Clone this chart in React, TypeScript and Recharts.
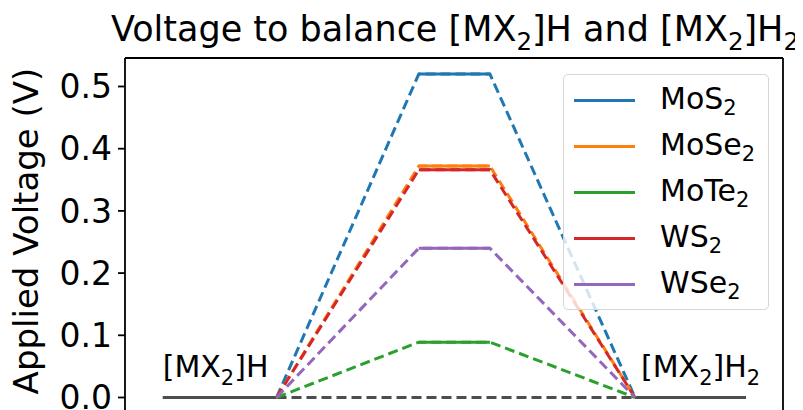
import React from 'react';
import { LineChart, Line, XAxis, YAxis, ReferenceDot } from 'recharts';

// reaction coordinate: [MX2]H plateau, barrier plateau, [MX2]H2 plateau
const stageX = [0, 1.6, 3.6, 4.6, 6.64, 8.2];
const materials = ['MoS', 'MoSe', 'MoTe', 'WS', 'WSe'];
const peakVoltage = [0.52, 0.372, 0.089, 0.366, 0.24];
const COLORS = ['#1f77b4', '#ff7f0e', '#2ca02c', '#d62728', '#9467bd'];
const yTicks = [0, 0.1, 0.2, 0.3, 0.4, 0.5];
const stateLabels = [
  { x: stageX[0], y: 0, sub: '' },
  { x: stageX[4], y: 0, sub: '2' },
];

const FONT = '"DejaVu Sans", sans-serif';
const GREY = '#4d4d4d';
const W = 795;
const H = 402;

const dashedData = (v: number) => [
  { x: stageX[1], y: 0 },
  { x: stageX[2], y: v },
  { x: stageX[3], y: v },
  { x: stageX[4], y: 0 },
];
const plateauData = (v: number) => [
  { x: stageX[2], y: v },
  { x: stageX[3], y: v },
];
const baseLeft = [
  { x: stageX[0], y: 0 },
  { x: stageX[1], y: 0 },
];
const baseMid = [
  { x: stageX[1], y: 0 },
  { x: stageX[4], y: 0 },
];
const baseRight = [
  { x: stageX[4], y: 0 },
  { x: stageX[5], y: 0 },
];

const StateLabel = (sub: string, dx: number) => (p: any) => {
  const fs = 30;
  return (
    <text x={p.cx + dx} y={p.cy - 20} fontSize={fs} fontFamily={FONT} fill="#000">
      <tspan>[MX</tspan>
      <tspan fontSize={fs * 0.7} dy={fs * 0.25}>2</tspan>
      <tspan dy={-fs * 0.25}>]H</tspan>
      {sub && (
        <tspan fontSize={fs * 0.7} dy={fs * 0.25}>
          {sub}
        </tspan>
      )}
    </text>
  );
};

const LegendBox = () => (
  <div
    style={{
      position: 'absolute',
      left: 555,
      top: 66,
      width: 206,
      height: 236,
      background: 'rgba(255,255,255,0.8)',
      border: '1px solid #d6d6d6',
      borderRadius: 5,
      paddingTop: 2,
      fontFamily: FONT,
      fontSize: 30,
      color: '#000',
      boxSizing: 'border-box',
    }}
  >
    {materials.map((m, i) => (
      <div key={m} style={{ display: 'flex', alignItems: 'center', height: 46 }}>
        <div style={{ width: 61, height: 3, background: COLORS[i], marginLeft: 10, marginRight: 25 }} />
        <span style={{ lineHeight: '46px' }}>
          {m}
          <span style={{ fontSize: '0.7em', position: 'relative', top: '0.3em' }}>2</span>
        </span>
      </div>
    ))}
  </div>
);

export default function App() {
  const fs = 35;
  const frame = { stroke: '#000', strokeWidth: 1.8 };
  return (
    <div style={{ position: 'relative', width: W, height: H }}>
      <LineChart width={W} height={H} margin={{ top: 49, right: 19, left: 0, bottom: 0 }}>
        <XAxis type="number" dataKey="x" domain={[-0.53, 8.72]} allowDataOverflow hide />
        <XAxis
          xAxisId="top"
          orientation="top"
          type="number"
          dataKey="x"
          domain={[-0.53, 8.72]}
          allowDataOverflow
          height={1}
          tick={false}
          tickLine={false}
          axisLine={frame}
        />
        <YAxis
          type="number"
          domain={[-0.0201, 0.5458]}
          allowDataOverflow
          ticks={yTicks}
          interval={0}
          width={117}
          tickSize={7}
          tickMargin={6}
          tickFormatter={(v) => Number(v).toFixed(1)}
          tick={{ fontSize: 33, fontFamily: FONT, fill: '#000' }}
          tickLine={frame}
          axisLine={frame}
        />
        <YAxis
          yAxisId="right"
          orientation="right"
          type="number"
          domain={[-0.0201, 0.5458]}
          allowDataOverflow
          width={1}
          tick={false}
          tickLine={false}
          axisLine={frame}
        />

        <Line data={baseLeft} dataKey="y" stroke={GREY} strokeWidth={3} dot={false} activeDot={false} isAnimationActive={false} />
        <Line data={baseMid} dataKey="y" stroke={GREY} strokeWidth={3} strokeDasharray="10 5" dot={false} activeDot={false} isAnimationActive={false} />
        <Line data={baseRight} dataKey="y" stroke={GREY} strokeWidth={3} dot={false} activeDot={false} isAnimationActive={false} />

        {materials.map((m, i) => (
          <Line
            key={m + '-d'}
            data={dashedData(peakVoltage[i])}
            dataKey="y"
            stroke={COLORS[i]}
            strokeWidth={3}
            strokeDasharray="10 5"
            dot={false}
            activeDot={false}
            isAnimationActive={false}
          />
        ))}
        {materials.map((m, i) => (
          <Line
            key={m + '-s'}
            data={plateauData(peakVoltage[i])}
            dataKey="y"
            stroke={COLORS[i]}
            strokeWidth={3}
            dot={false}
            activeDot={false}
            isAnimationActive={false}
          />
        ))}

        {stateLabels.map((s, i) => (
          <ReferenceDot
            key={i}
            x={s.x}
            y={s.y}
            r={0}
            ifOverflow="visible"
            shape={StateLabel(s.sub, i === 0 ? 0 : 6)}
          />
        ))}

        <text x={447} y={33} textAnchor="middle" fontSize={fs} fontFamily={FONT} fill="#000">
          <tspan>Voltage to balance [MX</tspan>
          <tspan fontSize={fs * 0.7} dy={fs * 0.25}>2</tspan>
          <tspan dy={-fs * 0.25}>]H and [MX</tspan>
          <tspan fontSize={fs * 0.7} dy={fs * 0.25}>2</tspan>
          <tspan dy={-fs * 0.25}>]H</tspan>
          <tspan fontSize={fs * 0.7} dy={fs * 0.25}>2</tspan>
        </text>
        <text
          x={30}
          y={223}
          transform="rotate(-90, 30, 223)"
          textAnchor="middle"
          fontSize={34}
          fontFamily={FONT}
          fill="#000"
        >
          Applied Voltage (V)
        </text>
      </LineChart>
      <LegendBox />
    </div>
  );
}
